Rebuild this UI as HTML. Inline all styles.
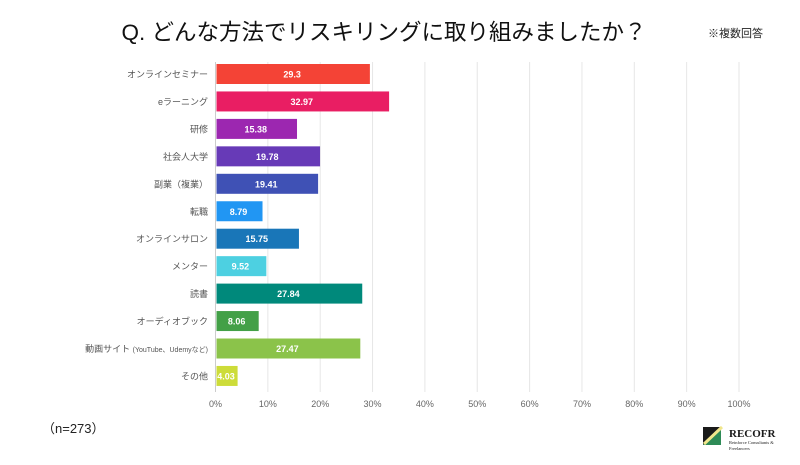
<!DOCTYPE html>
<html><head><meta charset="utf-8"><style>
body{margin:0;background:#fff;width:800px;height:460px;overflow:hidden;font-family:"Liberation Sans","Noto Sans CJK JP",sans-serif;}
</style></head><body>
<svg id="c" width="800" height="460" xmlns="http://www.w3.org/2000/svg">
<text x="384" y="40" text-anchor="middle" font-size="22.5" fill="#111" font-family="Liberation Sans,Noto Sans CJK JP,sans-serif">Q. どんな方法でリスキリングに取り組みましたか？</text>
<text x="708" y="37" font-size="11" fill="#222" font-family="Liberation Sans,Noto Sans CJK JP,sans-serif">※複数回答</text>
<text x="42" y="433" font-size="13" fill="#222" font-family="Liberation Sans,Noto Sans CJK JP,sans-serif">（n=273）</text>
<g id="grid"></g><g id="bars"></g>
<g>
<polygon points="703,427 721,427 703,445" fill="#1a1a1a"/>
<polygon points="721,427 703,445 721,445" fill="#2e8b57"/>
<line x1="704" y1="444" x2="722" y2="427" stroke="#f0e68c" stroke-width="3"/>
<text x="729" y="437" font-size="11" font-weight="bold" fill="#1a1a1a" font-family="Liberation Serif,serif">RECOFR</text>
<text x="729" y="444" font-size="4.5" fill="#1a1a1a" font-family="Liberation Serif,serif">Reinforce Consultants &amp;</text>
<text x="729" y="450" font-size="4.5" fill="#1a1a1a" font-family="Liberation Serif,serif">Freelancers</text>
</g>
</svg>
<script>
const categories=["オンラインセミナー","eラーニング","研修","社会人大学","副業（複業）","転職","オンラインサロン","メンター","読書","オーディオブック","動画サイト","その他"];
const values=[29.3,32.97,15.38,19.78,19.41,8.79,15.75,9.52,27.84,8.06,27.47,4.03];
const ticks=[0,10,20,30,40,50,60,70,80,90,100];
const colors=["#f44336","#e91e63","#9c27b0","#673ab7","#3f51b5","#2196f3","#1976b8","#4dd0e1","#00897b","#43a047","#8bc34a","#cddc39"];
const NS="http://www.w3.org/2000/svg";
const x=v=>215.5+v*5.235;
const y=i=>74+i*27.45;
function mk(t,a,p){const e=document.createElementNS(NS,t);for(const k in a)e.setAttribute(k,a[k]);p.appendChild(e);return e;}
const grid=document.getElementById('grid'),bars=document.getElementById('bars');
ticks.forEach(t=>{
 const l=mk('line',{x1:x(t),x2:x(t),y1:62,y2:392,stroke:t===0?'#ccc':'#e6e6e6','stroke-width':1},grid);
 
 
 const tx=mk('text',{x:x(t),y:407,'text-anchor':'middle','font-size':9,fill:'#666'},grid);
 tx.textContent=t+'%';
 
 
});
categories.forEach((c,i)=>{
 const r=mk('rect',{x:x(0)+1,y:y(i)-10,width:x(values[i])-x(0),height:20,fill:colors[i]},bars);
 
 
 const lb=mk('text',{x:208,y:y(i)+3.5,'text-anchor':'end','font-size':9,fill:'#555'},bars);
 if(c==="動画サイト"){lb.textContent='動画サイト ';const s=mk('tspan',{'font-size':7},lb);s.textContent='(YouTube、Udemyなど)';}
 else lb.textContent=c;
 
 
 const v=mk('text',{x:(x(0)+x(values[i]))/2,y:y(i)+3.5,'text-anchor':'middle','font-size':9,'font-weight':'bold',fill:'#fff'},bars);
 v.textContent=values[i];
 
 
});
</script>
</body></html>
